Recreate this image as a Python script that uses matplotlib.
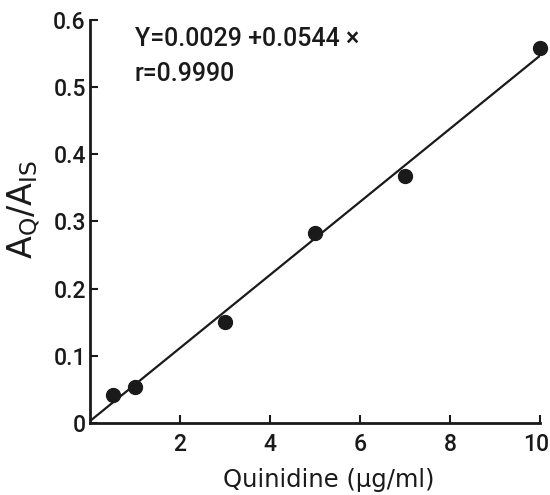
import matplotlib
matplotlib.use("Agg")
import matplotlib.pyplot as plt
import matplotlib.transforms as mtransforms
import numpy as np

# Data
conc = [0.5, 1.0, 3.0, 5.0, 7.0, 10.0]
ratio = [0.042, 0.053, 0.150, 0.283, 0.368, 0.558]
intercept = 0.0029
slope = 0.0544
x_ticks = [2, 4, 6, 8, 10]
y_ticks = [0, 0.1, 0.2, 0.3, 0.4, 0.5, 0.6]
y_tick_labels = ["0", "0.1", "0.2", "0.3", "0.4", "0.5", "0.6"]
eq_text = "Y=0.0029 +0.0544 ×"
r_text = "r=0.9990"

plt.rcParams['font.family'] = ['Roboto', 'DejaVu Sans']
plt.rcParams['font.weight'] = 500
plt.rcParams['mathtext.fontset'] = 'dejavusans'

fig = plt.figure(figsize=(5.5, 4.95), dpi=100)
ax = fig.add_axes([90/550, 1-423/495, 450/550, 403/495])

xl = np.array([0, 10.05])
ax.plot(xl, intercept + slope*xl, color='#1a1a1a', lw=1.6, zorder=2)
ax.plot(conc, ratio, 'o', color='#1a1a1a', ms=10, zorder=3, clip_on=False)

ax.set_xlim(0, 10)
ax.set_ylim(0, 0.6)
ax.set_xticks(x_ticks)
ax.set_xticklabels([str(t) for t in x_ticks])
ax.set_yticks(y_ticks)
ax.set_yticklabels(y_tick_labels)
for s in ['top', 'right']:
    ax.spines[s].set_visible(False)
for s in ['left', 'bottom']:
    ax.spines[s].set_linewidth(2)
    ax.spines[s].set_color('#1a1a1a')
ax.tick_params(direction='in', length=6, width=1.5, labelsize=16.5, colors='#1a1a1a', pad=3)
ax.tick_params(axis='x', pad=7)

# nudge last x tick label so it stays inside the figure
last = ax.get_xticklabels()[-1]
last.set_transform(last.get_transform() + mtransforms.ScaledTranslation(-4/100, 0, fig.dpi_scale_trans))

ax.text(1.0, 0.572, eq_text, fontsize=18, va='center', ha='left', color='#1a1a1a')
ax.text(1.0, 0.519, r_text, fontsize=18, va='center', ha='left', color='#1a1a1a')

ax.set_xlabel("Quinidine (μg/ml)", fontsize=17.5, color='#1a1a1a', family='DejaVu Sans')
ax.xaxis.set_label_coords(0.53, -0.112)
ax.set_ylabel(r"$\mathrm{A_Q/A_{IS}}$", fontsize=24, color='#1a1a1a')
ax.yaxis.set_label_coords(-0.107, 0.53)

fig.savefig("out.png", dpi=100)
